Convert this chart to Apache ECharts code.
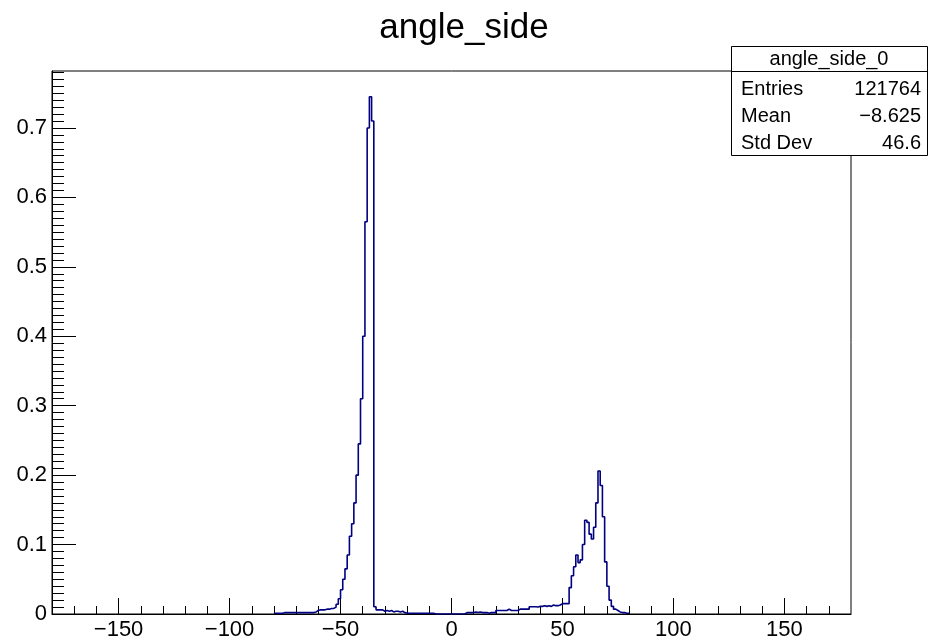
<!DOCTYPE html>
<html><head><meta charset="utf-8">
<script src="https://cdn.jsdelivr.net/npm/echarts@6/dist/echarts.min.js"></script>
<style>html,body{margin:0;padding:0;background:#fff}#c{width:928px;height:642px}</style>
</head><body><div id="c"></div>
<script>
// ---------------- data ----------------
const chartTitle = 'angle_side';
const binStart = -80;      // left edge of first listed bin (degrees)
const binWidth = 1;        // bin width (degrees)
const counts = [
  // -80 .. -71
  0.001, 0.001, 0.001, 0.001, 0.002, 0.002, 0.002, 0.002, 0.002, 0.002,
  // -70 .. -61
  0.002, 0.002, 0.002, 0.002, 0.002, 0.002, 0.002, 0.002, 0.003, 0.005,
  // -60 .. -51
  0.006, 0.006, 0.006, 0.007, 0.007, 0.008, 0.008, 0.010, 0.014, 0.022,
  // -50 .. -41
  0.035, 0.050, 0.065, 0.085, 0.112, 0.130, 0.160, 0.200, 0.245, 0.310,
  // -40 .. -31
  0.400, 0.565, 0.700, 0.745, 0.710, 0.0105, 0.006, 0.006, 0.006, 0.004,
  // -30 .. -21
  0.005, 0.004, 0.005, 0.003, 0.004, 0.004, 0.003, 0.004, 0.002, 0.0015,
  // -20 .. -11
  0.001, 0.001, 0.001, 0.001, 0.001, 0.001, 0.001, 0.001, 0.001, 0.001,
  // -10 .. -1
  0.001, 0.001, 0, 0, 0, 0, 0, 0, 0, 0,
  // 0 .. 9
  0, 0, 0, 0, 0, 0, 0.002, 0.002, 0.002, 0.002,
  // 10 .. 19
  0.003, 0.002, 0.003, 0.002, 0.002, 0.002, 0.001, 0.002, 0.002, 0.002,
  // 20 .. 29
  0.005, 0.005, 0.005, 0.005, 0.005, 0.007, 0.005, 0.005, 0.005, 0.005,
  // 30 .. 39
  0.007, 0.007, 0.007, 0.007, 0.007, 0.0105, 0.0105, 0.0105, 0.010, 0.011,
  // 40 .. 49
  0.011, 0.012, 0.011, 0.012, 0.011, 0.013, 0.012, 0.012, 0.013, 0.015,
  // 50 .. 59
  0.015, 0.015, 0.015, 0.038, 0.055, 0.068, 0.085, 0.074, 0.078, 0.100,
  // 60 .. 69
  0.135, 0.132, 0.115, 0.108, 0.125, 0.160, 0.206, 0.185, 0.140, 0.075,
  // 70 .. 79
  0.040, 0.020, 0.011, 0.007, 0.005, 0.003, 0.002, 0.002, 0.001, 0.001
];
const xRange = [-180, 180];
const yRange = [0, 0.782];
const xMajorTicks = [-150, -100, -50, 0, 50, 100, 150];
const xMinorStep = 10;
const yMajorTicks = [0, 0.1, 0.2, 0.3, 0.4, 0.5, 0.6, 0.7];
const yMinorStep = 0.01;
const statsTitle = 'angle_side_0';
const statsNames = ['Entries', 'Mean', 'Std Dev'];
const statsValues = ['121764', '\u22128.625', '46.6'];

// ---------------- build ----------------
const xMinorTicks = [];
for (let v = xRange[0] + xMinorStep; v < xRange[1]; v += xMinorStep) {
  if (xMajorTicks.indexOf(v) < 0) xMinorTicks.push(v);
}
const yMinorTicks = [];
for (let k = 1; k * yMinorStep < yRange[1]; k++) {
  if (k % 10 !== 0) yMinorTicks.push(+(k * yMinorStep).toFixed(3));
}
const points = counts.map((c, i) => [binStart + i * binWidth, c]);
points.push([binStart + counts.length * binWidth, counts[counts.length - 1]]);

const FONT = 'Liberation Sans';
const minusFmt = v => String(v).replace('-', '\u2212');

const chart = echarts.init(document.getElementById('c'), null, {renderer: 'canvas'});
const rowY = [89.5, 116.5, 143];
const graphic = [
  {type: 'rect', z: 100, shape: {x: 731.5, y: 46.5, width: 196, height: 109},
   style: {fill: '#fff', stroke: '#000', lineWidth: 1}},
  {type: 'line', z: 101, shape: {x1: 731.5, y1: 71.5, x2: 927.5, y2: 71.5},
   style: {stroke: '#000', lineWidth: 1}},
  {type: 'text', z: 101, x: 829, y: 59.5,
   style: {text: statsTitle, font: '20px "' + FONT + '"', fill: '#000', align: 'center', verticalAlign: 'middle'}}
];
statsNames.forEach((n, i) => {
  graphic.push({type: 'text', z: 101, x: 741, y: rowY[i],
    style: {text: n, font: '20px "' + FONT + '"', fill: '#000', align: 'left', verticalAlign: 'middle'}});
  graphic.push({type: 'text', z: 101, x: 921, y: rowY[i],
    style: {text: statsValues[i], font: '20px "' + FONT + '"', fill: '#000', align: 'right', verticalAlign: 'middle'}});
});

chart.setOption({
  animation: false,
  backgroundColor: '#fff',
  title: {text: chartTitle, left: 'center', top: 6,
    textStyle: {fontSize: 35, fontWeight: 'normal', color: '#000', fontFamily: FONT}},
  grid: {left: 52, top: 71, width: 799, height: 543, show: true,
    borderColor: '#000', borderWidth: 1, backgroundColor: 'transparent', containLabel: false},
  xAxis: [
    {type: 'value', min: xRange[0], max: xRange[1], position: 'bottom',
     axisLine: {show: true, onZero: false, lineStyle: {color: '#000', width: 1}},
     axisTick: {show: true, inside: true, length: 16, customValues: xMajorTicks, lineStyle: {color: '#000', width: 1}},
     axisLabel: {show: true, customValues: xMajorTicks, formatter: minusFmt, fontSize: 22, color: '#000', fontFamily: FONT, margin: 5},
     splitLine: {show: false}},
    {type: 'value', min: xRange[0], max: xRange[1], position: 'bottom',
     axisLine: {show: false, onZero: false},
     axisTick: {show: true, inside: true, length: 8, customValues: xMinorTicks, lineStyle: {color: '#000', width: 1}},
     axisLabel: {show: false},
     splitLine: {show: false}}
  ],
  yAxis: [
    {type: 'value', min: yRange[0], max: yRange[1], position: 'left',
     axisLine: {show: true, onZero: false, lineStyle: {color: '#000', width: 1}},
     axisTick: {show: true, inside: true, length: 24, customValues: yMajorTicks, lineStyle: {color: '#000', width: 1}},
     axisLabel: {show: true, customValues: yMajorTicks, fontSize: 22, color: '#000', fontFamily: FONT, margin: 5},
     splitLine: {show: false}},
    {type: 'value', min: yRange[0], max: yRange[1], position: 'left',
     axisLine: {show: false, onZero: false},
     axisTick: {show: true, inside: true, length: 12, customValues: yMinorTicks, lineStyle: {color: '#000', width: 1}},
     axisLabel: {show: false},
     splitLine: {show: false}}
  ],
  series: [{
    type: 'line', xAxisIndex: 0, yAxisIndex: 0, step: 'end',
    data: points, symbol: 'none', showSymbol: false,
    lineStyle: {color: '#000080', width: 1.6}, z: 5
  }],
  graphic: graphic
});
</script>
</body></html>
